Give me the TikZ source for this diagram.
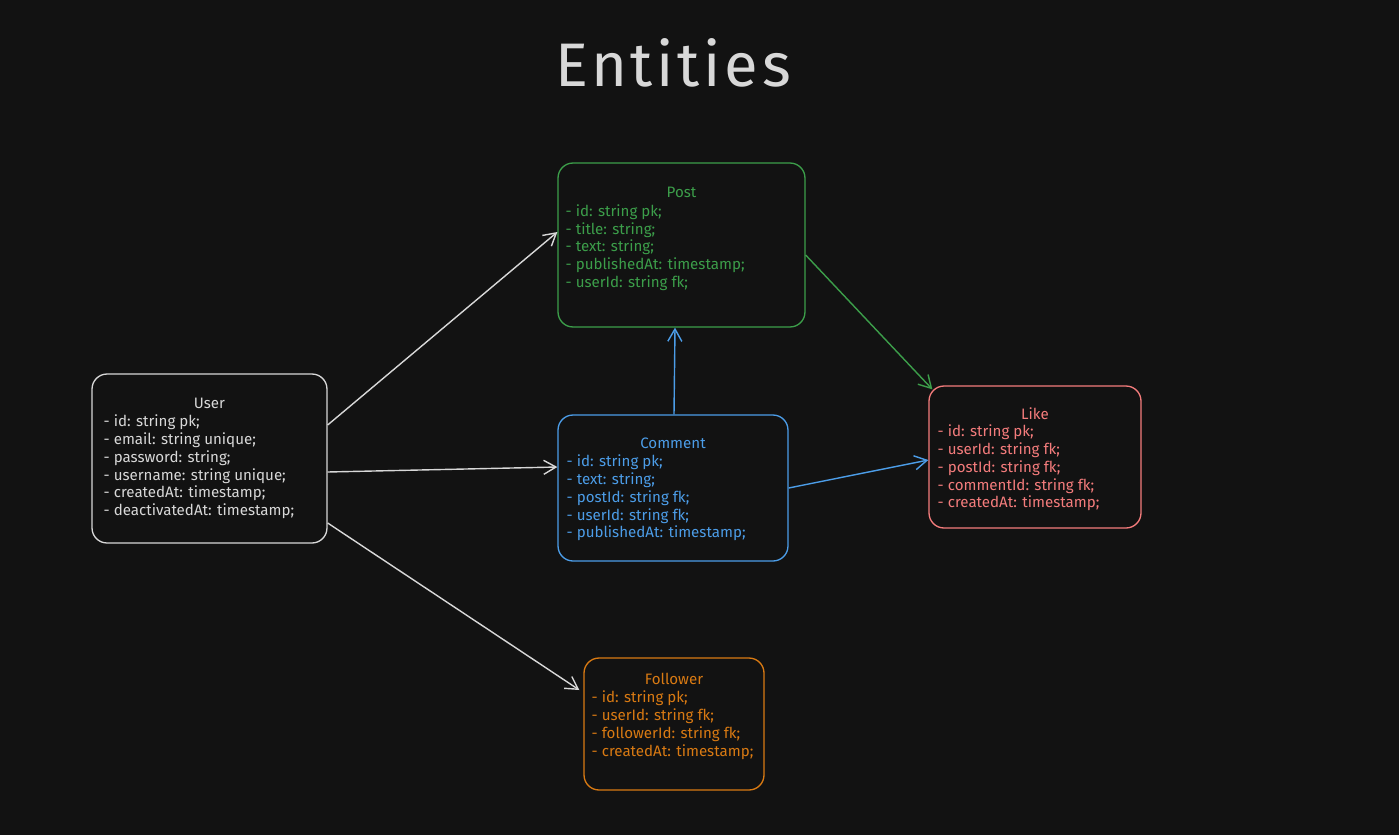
\documentclass[tikz,border=0pt]{standalone}
\usepackage{fontspec}
\setmainfont{Fira Sans}
\newfontfamily\hdrfont[LetterSpace=6]{Fira Sans}
\usepackage{xcolor}
\usetikzlibrary{arrows.meta, positioning, calc}
\definecolor{bgdark}     {HTML}{121212}
\definecolor{graystroke} {HTML}{D8D8D8}
\definecolor{greenstroke}{HTML}{3C9E4A}
\definecolor{bluestroke} {HTML}{4C9DE8}
\definecolor{redstroke}  {HTML}{F47C7C}
\definecolor{orangestroke}{HTML}{D97A12}
\tikzset{
  entbox/.style={rectangle, rounded corners=0.3cm, draw, line width=0.75pt,
    fill=bgdark},
  etitle/.style={inner sep=0pt, font=\fontsize{8.6}{10.1}\selectfont},
  efields/.style={inner sep=0pt, align=left, anchor=north west,
    font=\fontsize{8.6}{10.1}\selectfont},
  gray/.style  ={draw=graystroke,   text=graystroke},
  green/.style ={draw=greenstroke,  text=greenstroke},
  blue/.style  ={draw=bluestroke,   text=bluestroke},
  red/.style   ={draw=redstroke,    text=redstroke},
  orange/.style={draw=orangestroke, text=orangestroke},
  relarr/.style={-{Straight Barb[length=7pt,width=8pt]}, line width=0.8pt}
}
\begin{document}
\begin{tikzpicture}[x=0.02cm, y=-0.02cm]

  \fill[bgdark] (0,0) rectangle (1399,835);

  \node[font=\hdrfont\fontsize{35}{40}\selectfont, text=graystroke] (hdr) at (673,63)
    {Entities};

  %% ENTITY BOXES
  \node[entbox, green, minimum width=4.94cm, minimum height=3.28cm]
    (post) at (681.5,245) {};
  \node[entbox, gray, minimum width=4.7cm, minimum height=3.38cm]
    (user) at (209.5,458.5) {};
  \node[entbox, blue, minimum width=4.6cm, minimum height=2.92cm]
    (comment) at (673,488) {};
  \node[entbox, red, minimum width=4.24cm, minimum height=2.84cm]
    (like) at (1035,457) {};
  \node[entbox, orange, minimum width=3.6cm, minimum height=2.64cm]
    (follower) at (674,724) {};

  %% TITLES AND FIELDS
  \node[etitle, text=greenstroke] (post-t) at ([yshift=-0.6cm] post.north) {Post};
  \node[efields, text=greenstroke] (post-f) at ([xshift=0.16cm, yshift=-0.84cm] post.north west)
    {- id: string pk;\\
     - title: string;\\
     - text: string;\\
     - publishedAt: timestamp;\\
     - userId: string fk;};

  \node[etitle, text=graystroke] (user-t) at ([yshift=-0.6cm] user.north) {User};
  \node[efields, text=graystroke] (user-f) at ([xshift=0.24cm, yshift=-0.83cm] user.north west)
    {- id: string pk;\\
     - email: string unique;\\
     - password: string;\\
     - username: string unique;\\
     - createdAt: timestamp;\\
     - deactivatedAt: timestamp;};

  \node[etitle, text=bluestroke] (comment-t) at ([yshift=-0.58cm] comment.north) {Comment};
  \node[efields, text=bluestroke] (comment-f) at ([xshift=0.18cm, yshift=-0.81cm] comment.north west)
    {- id: string pk;\\
     - text: string;\\
     - postId: string fk;\\
     - userId: string fk;\\
     - publishedAt: timestamp;};

  \node[etitle, text=redstroke] (like-t) at ([yshift=-0.56cm] like.north) {Like};
  \node[efields, text=redstroke] (like-f) at ([xshift=0.18cm, yshift=-0.79cm] like.north west)
    {- id: string pk;\\
     - userId: string fk;\\
     - postId: string fk;\\
     - commentId: string fk;\\
     - createdAt: timestamp;};

  \node[etitle, text=orangestroke] (follower-t) at ([yshift=-0.44cm] follower.north) {Follower};
  \node[efields, text=orangestroke] (follower-f) at ([xshift=0.16cm, yshift=-0.67cm] follower.north west)
    {- id: string pk;\\
     - userId: string fk;\\
     - followerId: string fk;\\
     - createdAt: timestamp;};

  %% RELATIONS
  \draw[relarr, graystroke] ([yshift=0.67cm] user.east) -- ([yshift=0.26cm] post.west);
  \draw[relarr, graystroke] ([yshift=-0.27cm] user.east) -- ([yshift=0.42cm] comment.west);
  \draw[relarr, graystroke] ([yshift=-1.29cm] user.east) -- ([xshift=-0.08cm, yshift=0.68cm] follower.west);
  \draw[relarr, bluestroke] ([xshift=0.02cm] comment.north) -- ([xshift=-0.13cm] post.south);
  \draw[relarr, greenstroke] ([yshift=-0.2cm] post.east) -- ([xshift=0.08cm, yshift=-0.08cm] like.north west);
  \draw[relarr, bluestroke] (comment.east) -- ([yshift=-0.06cm] like.west);

\end{tikzpicture}
\end{document}
